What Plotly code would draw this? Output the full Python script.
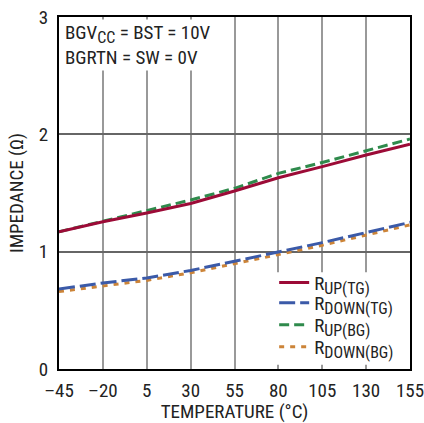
import plotly.graph_objects as go

temperature = [-45, -20, 5, 30, 55, 80, 105, 130, 155]
r_up_tg = [1.17, 1.255, 1.33, 1.41, 1.517, 1.63, 1.725, 1.824, 1.915]
r_down_tg = [0.682, 0.733, 0.776, 0.84, 0.918, 0.995, 1.077, 1.163, 1.25]
r_up_bg = [1.17, 1.26, 1.345, 1.44, 1.54, 1.667, 1.76, 1.86, 1.96]
r_down_bg = [0.66, 0.71, 0.755, 0.82, 0.895, 0.975, 1.055, 1.14, 1.228]

x_ticks = [-45, -20, 5, 30, 55, 80, 105, 130, 155]
x_ticktext = ["–45", "–20", "5", "30", "55", "80", "105", "130", "155"]
y_ticks = [0, 1, 2, 3]

FONT = "Roboto Condensed, Liberation Sans, sans-serif"
SUB = '<sub><span style="font-size:{}px">{}</span></sub>'


def legend_name(sub):
    return "R" + SUB.format(16, sub)


fig = go.Figure()
series = [
    (legend_name("UP(TG)"), r_up_tg, "#9c0b37", "solid"),
    (legend_name("DOWN(TG)"), r_down_tg, "#3b5aa8", "16px,5px"),
    (legend_name("UP(BG)"), r_up_bg, "#2f8a4c", "10px,5px"),
    (legend_name("DOWN(BG)"), r_down_bg, "#cc8438", "5px,6px"),
]
legend_ids = ["legend", "legend2", "legend3", "legend4"]
# stacked key rows, one small legend per series
legend_rows = [0.245, 0.188, 0.125, 0.063]

# draw order: orange under blue, green under red
for idx in [3, 1, 2, 0]:
    name, vals, col, dash = series[idx]
    fig.add_trace(go.Scatter(
        x=temperature, y=vals, mode="lines", name=name,
        line=dict(color=col, width=3, dash=dash),
        legend=legend_ids[idx],
    ))

legend_common = dict(
    xanchor="left", yanchor="middle", x=0.613,
    bgcolor="rgba(0,0,0,0)", borderwidth=0,
    font=dict(family=FONT, size=19, color="#222"),
    itemwidth=30,
)
legend_layout = {
    lid: dict(legend_common, y=row) for lid, row in zip(legend_ids, legend_rows)
}

fig.update_layout(
    width=424, height=423,
    margin=dict(l=59, r=14, t=17, b=54, autoexpand=False),
    paper_bgcolor="white", plot_bgcolor="white",
    font=dict(family=FONT, size=19, color="#222"),
    showlegend=True,
    **legend_layout,
    xaxis=dict(
        range=[-45, 155], tickvals=x_ticks, ticktext=x_ticktext,
        showgrid=True, gridcolor="#999", gridwidth=1.5,
        showline=True, linecolor="black", linewidth=2, mirror=True,
        ticks="inside", ticklen=4, tickcolor="#999",
        zeroline=False, ticklabelstandoff=3, automargin=False,
        ticklabeloverflow="allow",
        title=dict(text="TEMPERATURE (°C)", font=dict(family=FONT, size=19), standoff=8),
        tickfont=dict(family=FONT, size=19),
    ),
    yaxis=dict(
        range=[0, 3], tickvals=y_ticks,
        showgrid=True, gridcolor="#666", gridwidth=1.5,
        showline=True, linecolor="black", linewidth=2, mirror=True,
        zeroline=False, ticks="", ticklabelstandoff=5, automargin=False,
        ticklabeloverflow="allow",
        title=dict(text="IMPEDANCE (Ω)", font=dict(family=FONT, size=19), standoff=10),
        tickfont=dict(family=FONT, size=19),
    ),
)

# white panel behind the key, over the grid
fig.add_shape(
    type="rect", xref="paper", yref="paper",
    x0=0.58, x1=0.995, y0=0.012, y1=0.275,
    fillcolor="white", line=dict(width=0), layer="above",
)

fig.add_annotation(
    x=0.01, y=0.995, xref="paper", yref="paper", xanchor="left", yanchor="top",
    text="BGV" + SUB.format(16, "CC") + " = BST = 10V<br>BGRTN = SW = 0V",
    showarrow=False, align="left", bgcolor="white",
    font=dict(family=FONT, size=19, color="#222"),
)

fig.write_html("out.html")
